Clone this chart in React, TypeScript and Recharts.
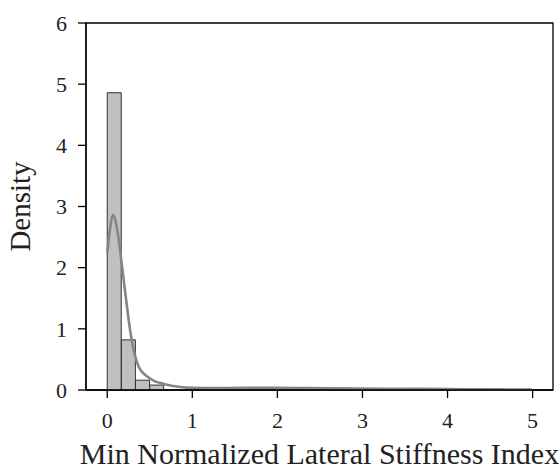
import React from 'react';
import { ComposedChart, Bar, Line, XAxis, YAxis, ReferenceArea } from 'recharts';

const binWidth = 4.99 / 30;
const binDensity = [
  4.86, 0.82, 0.16, 0.08, 0, 0, 0, 0, 0, 0,
  0, 0, 0, 0, 0, 0, 0, 0, 0, 0,
  0, 0, 0, 0, 0, 0, 0, 0, 0, 0,
];
const kdeX = [0, 0.03, 0.07, 0.12, 0.176, 0.22, 0.274, 0.32, 0.37, 0.42, 0.47, 0.55, 0.665, 0.86, 1.0, 1.3, 1.6, 2.0, 2.4, 3.0, 3.5, 4.0, 4.5, 4.99];
const kdeY = [2.24, 2.6, 2.86, 2.6, 2.0, 1.5, 0.93, 0.6, 0.38, 0.28, 0.22, 0.15, 0.1, 0.05, 0.035, 0.03, 0.035, 0.035, 0.03, 0.022, 0.02, 0.015, 0.01, 0.008];
const xTicks = [0, 1, 2, 3, 4, 5];
const yTicks = [0, 1, 2, 3, 4, 5, 6];

const binData = binDensity.map((d, i) => ({ x: (i + 0.5) * binWidth, d }));
const kdeData = kdeX.map((x, i) => ({ x, y: kdeY[i] }));

const FONT = 'Liberation Serif';
const xDomain: [number, number] = [-0.2495, 5.2395];

const YLabel = (props: any) => {
  const vb = props.viewBox;
  const x = vb.x + 4;
  const y = vb.y + vb.height / 2;
  return (
    <text x={x} y={y} transform={`rotate(-90 ${x} ${y})`} textAnchor="middle" fontFamily={FONT} fontSize={29} fill="#222">
      Density
    </text>
  );
};

const XLabel = (props: any) => {
  const vb = props.viewBox;
  const x = vb.x + vb.width / 2;
  const y = vb.y + vb.height - 4;
  return (
    <text x={x} y={y} textAnchor="middle" fontFamily={FONT} fontSize={30} fill="#222">
      Min Normalized Lateral Stiffness Index
    </text>
  );
};

export default function App() {
  return (
    <div style={{ position: 'absolute', left: 0, top: 0, background: '#fff', fontFamily: FONT }}>
      <ComposedChart
        width={559}
        height={470}
        data={binData}
        margin={{ top: 23, right: 6, bottom: 2, left: 26 }}
        barCategoryGap={0}
        barGap={0}
        style={{ fontFamily: FONT }}
      >
        <XAxis
          xAxisId="main"
          dataKey="x"
          type="number"
          domain={xDomain}
          allowDataOverflow
          ticks={xTicks}
          tickSize={8}
          tickMargin={14}
          height={78}
          stroke="#000"
          strokeWidth={1.3}
          fontFamily={FONT}
          tick={{ fill: '#222', fontSize: 22, fontFamily: FONT }}
          label={<XLabel />}
        />
        <XAxis
          xAxisId="bin"
          dataKey="x"
          type="number"
          orientation="top"
          domain={xDomain}
          allowDataOverflow
          height={0}
          hide
        />
        <YAxis
          yAxisId="left"
          type="number"
          domain={[0, 6]}
          ticks={yTicks}
          tickSize={8}
          tickMargin={11}
          width={60}
          stroke="#000"
          strokeWidth={1.3}
          fontFamily={FONT}
          tick={{ fill: '#222', fontSize: 22, fontFamily: FONT }}
          label={<YLabel />}
        />
        <Bar
          xAxisId="bin"
          yAxisId="left"
          dataKey="d"
          fill="#c0c0c0"
          stroke="#333"
          strokeWidth={1}
          isAnimationActive={false}
        />
        <Line
          xAxisId="main"
          yAxisId="left"
          data={kdeData}
          dataKey="y"
          type="monotone"
          stroke="#858585"
          strokeWidth={2.6}
          dot={false}
          activeDot={false}
          isAnimationActive={false}
        />
        <ReferenceArea
          xAxisId="main"
          yAxisId="left"
          x1={xDomain[0]}
          x2={xDomain[1]}
          y1={0}
          y2={6}
          fill="none"
          fillOpacity={0}
          stroke="#000"
          strokeWidth={1.3}
          strokeOpacity={1}
          ifOverflow="visible"
        />
      </ComposedChart>
    </div>
  );
}
